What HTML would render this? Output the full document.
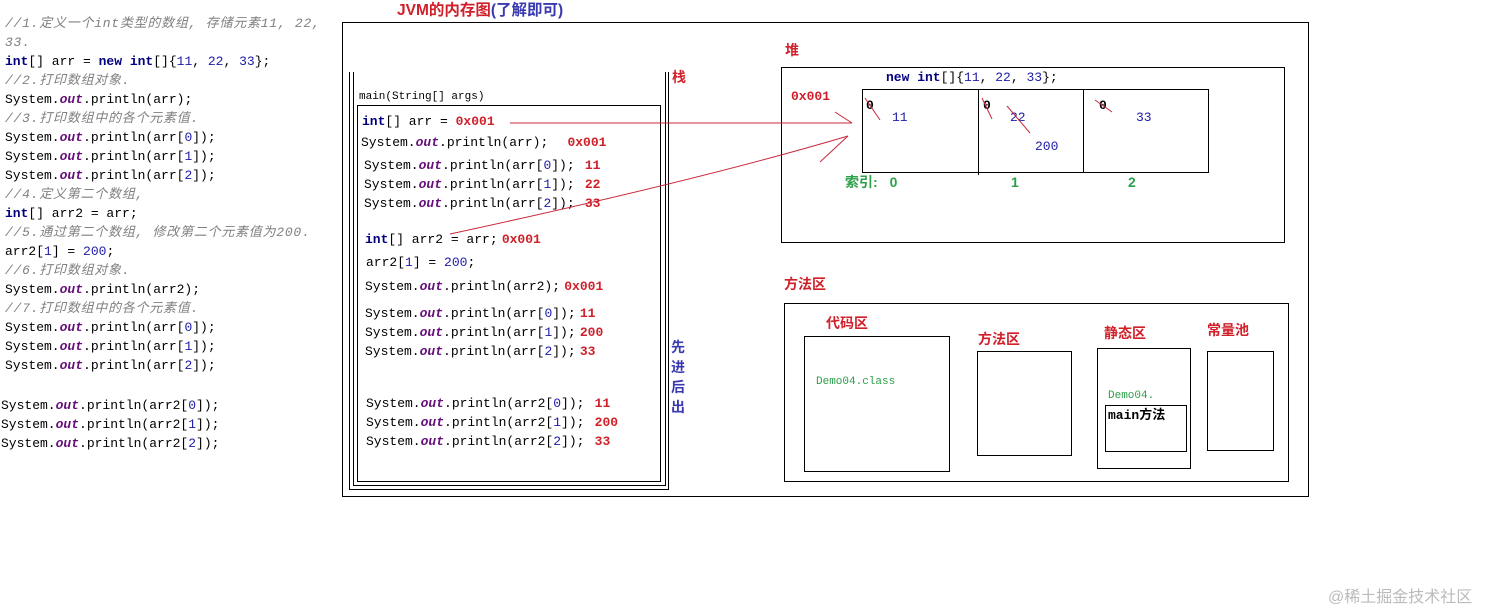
<!DOCTYPE html>
<html><head><meta charset="utf-8">
<style>
html,body{margin:0;padding:0;background:#fff;}
body{width:1493px;height:608px;position:relative;overflow:hidden;font-family:"Liberation Mono","Noto Sans CJK SC",monospace;font-size:13px;color:#000;}
.l{position:absolute;white-space:pre;line-height:16px;height:16px;}
.k{font-weight:bold;color:#000080;}
.o{font-weight:bold;font-style:italic;color:#660e7a;}
.n{color:#1c1ca8;}
.c{color:#808080;font-style:italic;letter-spacing:0.75px;}
.r{color:#d0202a;font-weight:bold;}
.g{color:#2ea04a;}
.s{display:inline-block;width:12px;}
.t{display:inline-block;width:18px;}
.b{position:absolute;border:1px solid #000;box-sizing:border-box;}
.h{position:absolute;font-family:"Liberation Sans","Noto Sans CJK SC",sans-serif;font-weight:bold;color:#d0202a;font-size:14px;white-space:nowrap;line-height:16px;}
</style></head><body>

<!-- left code -->
<div class="l c" style="left:5px;top:16px">//1.定义一个int类型的数组, 存储元素11, 22,</div>
<div class="l c" style="left:5px;top:35px">33.</div>
<div class="l" style="left:5px;top:54px"><span class="k">int</span>[] arr = <span class="k">new int</span>[]{<span class="n">11</span>, <span class="n">22</span>, <span class="n">33</span>}<span class="s">;</span></div>
<div class="l c" style="left:5px;top:73px">//2.打印数组对象.</div>
<div class="l" style="left:5px;top:92px">System.<span class="o">out</span>.println(arr)<span class="s">;</span></div>
<div class="l c" style="left:5px;top:111px">//3.打印数组中的各个元素值.</div>
<div class="l" style="left:5px;top:130px">System.<span class="o">out</span>.println(arr[<span class="n">0</span>])<span class="s">;</span></div>
<div class="l" style="left:5px;top:149px">System.<span class="o">out</span>.println(arr[<span class="n">1</span>])<span class="s">;</span></div>
<div class="l" style="left:5px;top:168px">System.<span class="o">out</span>.println(arr[<span class="n">2</span>])<span class="s">;</span></div>
<div class="l c" style="left:5px;top:187px">//4.定义第二个数组,</div>
<div class="l" style="left:5px;top:206px"><span class="k">int</span>[] arr2 = arr<span class="s">;</span></div>
<div class="l c" style="left:5px;top:225px">//5.通过第二个数组, 修改第二个元素值为200.</div>
<div class="l" style="left:5px;top:244px">arr2[<span class="n">1</span>] = <span class="n">200</span><span class="s">;</span></div>
<div class="l c" style="left:5px;top:263px">//6.打印数组对象.</div>
<div class="l" style="left:5px;top:282px">System.<span class="o">out</span>.println(arr2)<span class="s">;</span></div>
<div class="l c" style="left:5px;top:301px">//7.打印数组中的各个元素值.</div>
<div class="l" style="left:5px;top:320px">System.<span class="o">out</span>.println(arr[<span class="n">0</span>])<span class="s">;</span></div>
<div class="l" style="left:5px;top:339px">System.<span class="o">out</span>.println(arr[<span class="n">1</span>])<span class="s">;</span></div>
<div class="l" style="left:5px;top:358px">System.<span class="o">out</span>.println(arr[<span class="n">2</span>])<span class="s">;</span></div>
<div class="l" style="left:1px;top:398px">System.<span class="o">out</span>.println(arr2[<span class="n">0</span>])<span class="s">;</span></div>
<div class="l" style="left:1px;top:417px">System.<span class="o">out</span>.println(arr2[<span class="n">1</span>])<span class="s">;</span></div>
<div class="l" style="left:1px;top:436px">System.<span class="o">out</span>.println(arr2[<span class="n">2</span>])<span class="s">;</span></div>

<!-- JVM -->
<div class="h" style="left:397px;top:3px;font-size:15.5px">JVM的内存图<span style="color:#3a3ab0">(了解即可)</span></div>
<div class="b" style="left:342px;top:22px;width:967px;height:475px"></div>

<!-- stack -->
<div style="position:absolute;left:349px;top:72px;width:320px;height:418px;border:1px solid #000;border-top:none;box-sizing:border-box"></div>
<div style="position:absolute;left:353px;top:72px;width:313px;height:414px;border:1px solid #000;border-top:none;box-sizing:border-box"></div>
<div class="l" style="left:359px;top:89px;font-size:11px">main(String[] args)</div>
<div class="b" style="left:357px;top:105px;width:304px;height:377px"></div>
<div class="h" style="left:672px;top:69px">栈</div>
<div class="h" style="left:671px;top:337px;color:#3a3ab0;width:16px;white-space:normal;line-height:20px">先进后出</div>

<div class="l" style="left:362px;top:114px"><span class="k">int</span>[] arr = <span class="r">0x001</span></div>
<div class="l" style="left:361px;top:135px">System.<span class="o">out</span>.println(arr)<span class="t" style="width:27px">;</span><span class="r">0x001</span></div>
<div class="l" style="left:364px;top:158px">System.<span class="o">out</span>.println(arr[<span class="n">0</span>])<span class="t">;</span><span class="r">11</span></div>
<div class="l" style="left:364px;top:177px">System.<span class="o">out</span>.println(arr[<span class="n">1</span>])<span class="t">;</span><span class="r">22</span></div>
<div class="l" style="left:364px;top:196px">System.<span class="o">out</span>.println(arr[<span class="n">2</span>])<span class="t">;</span><span class="r">33</span></div>
<div class="l" style="left:365px;top:232px"><span class="k">int</span>[] arr2 = arr<span class="s">;</span><span class="r">0x001</span></div>
<div class="l" style="left:366px;top:255px">arr2[<span class="n">1</span>] = <span class="n">200</span>;</div>
<div class="l" style="left:365px;top:279px">System.<span class="o">out</span>.println(arr2)<span class="s">;</span><span class="r">0x001</span></div>
<div class="l" style="left:365px;top:306px">System.<span class="o">out</span>.println(arr[<span class="n">0</span>])<span class="s">;</span><span class="r">11</span></div>
<div class="l" style="left:365px;top:325px">System.<span class="o">out</span>.println(arr[<span class="n">1</span>])<span class="s">;</span><span class="r">200</span></div>
<div class="l" style="left:365px;top:344px">System.<span class="o">out</span>.println(arr[<span class="n">2</span>])<span class="s">;</span><span class="r">33</span></div>
<div class="l" style="left:366px;top:396px">System.<span class="o">out</span>.println(arr2[<span class="n">0</span>])<span class="t">;</span><span class="r">11</span></div>
<div class="l" style="left:366px;top:415px">System.<span class="o">out</span>.println(arr2[<span class="n">1</span>])<span class="t">;</span><span class="r">200</span></div>
<div class="l" style="left:366px;top:434px">System.<span class="o">out</span>.println(arr2[<span class="n">2</span>])<span class="t">;</span><span class="r">33</span></div>

<!-- heap -->
<div class="h" style="left:785px;top:42px">堆</div>
<div class="b" style="left:781px;top:67px;width:504px;height:176px"></div>
<div class="l" style="left:886px;top:70px"><span class="k">new int</span>[]{<span class="n">11</span>, <span class="n">22</span>, <span class="n">33</span>}<span class="s">;</span></div>
<div class="l r" style="left:791px;top:89px">0x001</div>
<div class="b" style="left:862px;top:89px;width:347px;height:84px"></div>
<div style="position:absolute;left:978px;top:89px;width:1px;height:86px;background:#000"></div>
<div style="position:absolute;left:1083px;top:89px;width:1px;height:84px;background:#000"></div>
<div class="l" style="left:866px;top:98px;font-weight:bold">0</div>
<div class="l n" style="left:892px;top:110px">11</div>
<div class="l" style="left:983px;top:98px;font-weight:bold">0</div>
<div class="l n" style="left:1010px;top:110px">22</div>
<div class="l n" style="left:1035px;top:139px">200</div>
<div class="l" style="left:1099px;top:98px;font-weight:bold">0</div>
<div class="l n" style="left:1136px;top:110px">33</div>
<div class="h g" style="left:845px;top:174px;color:#2ea04a">索引: <span style="margin-left:8px">0</span></div>
<div class="h" style="left:1011px;top:174px;color:#2ea04a">1</div>
<div class="h" style="left:1128px;top:174px;color:#2ea04a">2</div>

<!-- method area -->
<div class="h" style="left:784px;top:276px">方法区</div>
<div class="b" style="left:784px;top:303px;width:505px;height:179px"></div>
<div class="h" style="left:826px;top:315px">代码区</div>
<div class="b" style="left:804px;top:336px;width:146px;height:136px"></div>
<div class="l g" style="left:816px;top:374px;font-size:11px">Demo04.class</div>
<div class="h" style="left:978px;top:331px">方法区</div>
<div class="b" style="left:977px;top:351px;width:95px;height:105px"></div>
<div class="h" style="left:1104px;top:325px">静态区</div>
<div class="b" style="left:1097px;top:348px;width:94px;height:121px"></div>
<div class="l g" style="left:1108px;top:388px;font-size:11px">Demo04.</div>
<div class="b" style="left:1105px;top:405px;width:82px;height:47px"></div>
<div class="l" style="left:1108px;top:408px;font-weight:bold;font-size:13px">main方法</div>
<div class="h" style="left:1207px;top:322px">常量池</div>
<div class="b" style="left:1207px;top:351px;width:67px;height:100px"></div>

<div style="position:absolute;left:1328px;top:583px;font-family:'Liberation Sans','Noto Sans CJK SC',sans-serif;font-size:16px;color:#bbb;white-space:nowrap">@稀土掘金技术社区</div>

<svg width="1493" height="608" style="position:absolute;left:0;top:0" fill="none" stroke="#c8283a" stroke-width="1">
<line x1="510" y1="123" x2="852" y2="123"/>
<line x1="835" y1="112" x2="852" y2="123"/>
<path d="M450 234 Q700 180 848 136"/>
<line x1="820" y1="162" x2="848" y2="136"/>
<line x1="865" y1="98" x2="880" y2="120"/>
<line x1="982" y1="98" x2="992" y2="119"/>
<line x1="1007" y1="106" x2="1030" y2="133"/>
<line x1="1095" y1="100" x2="1112" y2="112"/>
</svg>
</body></html>
